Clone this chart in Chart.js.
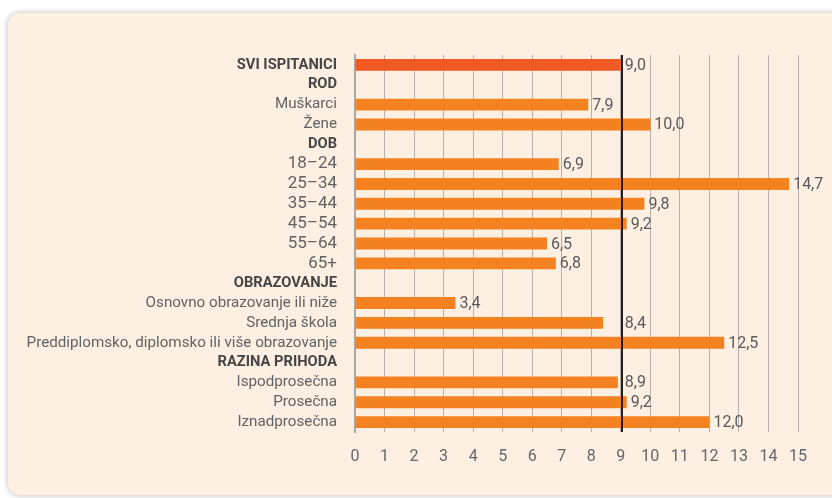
<!DOCTYPE html>
<html>
<head>
<meta charset="utf-8">
<script src="https://cdn.jsdelivr.net/npm/chart.js@4/dist/chart.umd.min.js"></script>
<style>
  html, body { margin:0; padding:0; background:#ffffff; width:832px; height:498px; overflow:hidden; }
  #panel { position:absolute; left:8px; top:13px; width:840px; height:482px; background:#fdefe2;
           border-radius:12px; box-shadow:0 0 6px rgba(0,0,0,0.28); }
  #wrap { position:absolute; left:0; top:0; width:832px; height:498px; }
</style>
</head>
<body>
<div id="panel"></div>
<div id="wrap"><canvas id="c" width="832" height="498"></canvas></div>
<script>
const categories = [
  "SVI ISPITANICI", "ROD", "Muškarci", "Žene", "DOB",
  "18–24", "25–34", "35–44", "45–54", "55–64", "65+",
  "OBRAZOVANJE", "Osnovno obrazovanje ili niže", "Srednja škola",
  "Preddiplomsko, diplomsko ili više obrazovanje",
  "RAZINA PRIHODA", "Ispodprosečna", "Prosečna", "Iznadprosečna"
];
const values = [9.0, null, 7.9, 10.0, null, 6.9, 14.7, 9.8, 9.2, 6.5, 6.8, null, 3.4, 8.4, 12.5, null, 8.9, 9.2, 12.0];
const headings = ["SVI ISPITANICI", "ROD", "DOB", "OBRAZOVANJE", "RAZINA PRIHODA"];
const ageGroups = ["18–24", "25–34", "35–44", "45–54", "55–64", "65+"];
const averageValue = 9.0;
const xTicks = [0,1,2,3,4,5,6,7,8,9,10,11,12,13,14,15];

const barColors = categories.map((c, i) => i === 0 ? '#f15a22' : '#f58220');

const avgLinePlugin = {
  id: 'avgLine',
  afterDatasetsDraw(chart) {
    const { ctx, chartArea, scales } = chart;
    const x = Math.round(scales.x.getPixelForValue(averageValue)) + 1;
    ctx.save();
    ctx.strokeStyle = '#231f20';
    ctx.lineWidth = 2;
    ctx.beginPath();
    ctx.moveTo(x, chartArea.top);
    ctx.lineTo(x, chartArea.bottom);
    ctx.stroke();
    ctx.restore();
  }
};

const valueLabelPlugin = {
  id: 'valueLabels',
  afterDatasetsDraw(chart) {
    const { ctx, scales } = chart;
    const meta = chart.getDatasetMeta(0);
    const lineX = scales.x.getPixelForValue(averageValue) + 1;
    ctx.save();
    ctx.font = '16px Roboto';
    ctx.fillStyle = '#5a5a5a';
    ctx.textBaseline = 'middle';
    ctx.textAlign = 'left';
    meta.data.forEach((bar, i) => {
      const v = values[i];
      if (v === null || v === undefined) return;
      const txt = v.toFixed(1).replace('.', ',');
      const w = ctx.measureText(txt).width;
      let x = bar.x + 4;
      if (x < lineX + 3 && x + w > lineX - 1) x = lineX + 3;
      ctx.fillText(txt, x, bar.y + 1);
    });
    ctx.restore();
  }
};

new Chart(document.getElementById('c'), {
  type: 'bar',
  data: {
    labels: categories,
    datasets: [{
      data: values,
      backgroundColor: barColors,
      borderWidth: 0,
      barPercentage: 0.6,
      categoryPercentage: 1.0
    }]
  },
  options: {
    indexAxis: 'y',
    responsive: false,
    animation: false,
    devicePixelRatio: 1,
    layout: { padding: { top: 55, right: 34, bottom: 0, left: 0 } },
    plugins: { legend: { display: false }, tooltip: { enabled: false } },
    scales: {
      x: {
        type: 'linear',
        min: 0, max: 15,
        afterBuildTicks(scale) { scale.ticks = xTicks.map(v => ({ value: v })); },
        afterFit(scale) { scale.height = 66; },
        grid: { color: '#b7b0aa', lineWidth: 1, drawTicks: false },
        border: { display: false },
        ticks: {
          padding: 15,
          color: '#666666',
          font: { family: 'Roboto', size: 16 },
          callback: v => String(v)
        }
      },
      y: {
        type: 'category',
        afterFit(scale) { scale.width = 355; },
        grid: { display: false, drawTicks: false },
        border: { display: true, color: '#a8a8a8', width: 2 },
        ticks: {
          padding: 18,
          autoSkip: false,
          color: ctx => headings.includes(categories[ctx.index]) ? '#454545' : '#626262',
          font: ctx => {
            const lab = categories[ctx.index];
            if (headings.includes(lab)) return { family: 'Roboto', size: 14.7, weight: 'bold' };
            if (ageGroups.includes(lab)) return { family: 'Roboto', size: 17 };
            return { family: 'Roboto', size: 15.2 };
          }
        }
      }
    }
  },
  plugins: [avgLinePlugin, valueLabelPlugin]
});
</script>
</body>
</html>
